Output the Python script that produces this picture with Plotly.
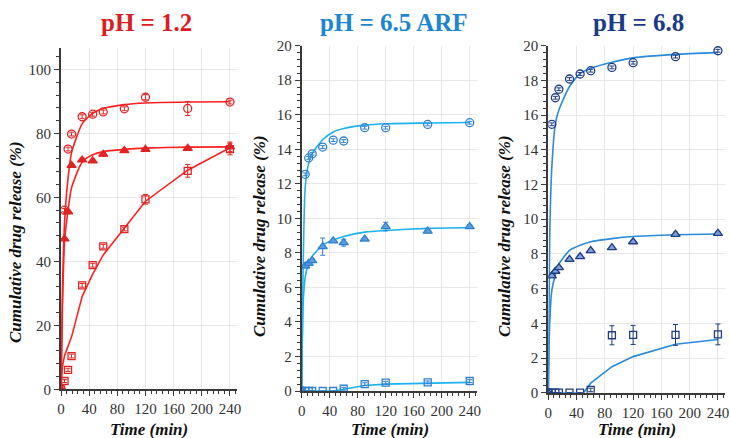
import plotly.graph_objects as go

# ---------------- data ----------------
T = [0, 5, 10, 15, 30, 45, 60, 90, 120, 180, 240]
FIT_T = [0, 2, 5, 10, 15, 30, 45, 60, 90, 120, 180, 240]

# pH = 1.2
circ1 = [0, 56, 75.1, 79.8, 85.2, 86.0, 86.7, 87.7, 91.3, 87.8, 89.8]
circ1_err = [0, 0.5, 0.6, 0.6, 0.6, 0.6, 0.6, 0.6, 0.8, 2.2, 0.6]
tri1 = [0, 47, 55.5, 70.0, 71.7, 71.4, 73.5, 74.6, 75.0, 75.3, 75.8]
tri1_err = [0, 0.5, 0.5, 0.5, 0.5, 0.5, 0.5, 0.5, 0.5, 0.5, 1.5]
sq1 = [0, 2.6, 6.1, 10.4, 32.5, 38.8, 44.7, 50.1, 59.4, 68.3, 75.1]
sq1_err = [0, 0.5, 0.5, 0.6, 0.6, 0.6, 0.6, 0.6, 1.5, 2.0, 1.8]
fit_c1 = [0, 30, 52, 66, 74, 83, 86.3, 87.8, 89.0, 89.5, 89.8, 89.9]
fit_t1 = [0, 25, 46, 56, 63, 71, 73.3, 74.3, 75.0, 75.4, 75.7, 75.8]
fit_s1 = [0, 7, 10.5, 13.5, 16.4, 29, 36, 42, 50.5, 58.8, 68.5, 75.5]

# pH = 6.5 ARF
circ2 = [0, 12.55, 13.5, 13.74, 14.13, 14.53, 14.48, 15.25, 15.25, 15.44, 15.54]
circ2_err = [0, 0.08, 0.08, 0.08, 0.08, 0.08, 0.08, 0.08, 0.08, 0.08, 0.08]
tri2 = [0, 7.24, 7.39, 7.55, 8.36, 8.7, 8.59, 8.8, 9.52, 9.26, 9.52]
tri2_err = [0, 0.08, 0.1, 0.1, 0.5, 0.08, 0.2, 0.08, 0.25, 0.1, 0.1]
sq2 = [0, 0, 0, 0, 0, 0, 0.13, 0.4, 0.48, 0.5, 0.58]
sq2_err = [0, 0, 0, 0, 0, 0, 0.08, 0.08, 0.08, 0.08, 0.08]
fit_c2 = [0, 7, 11.8, 13.2, 13.75, 14.55, 15.0, 15.2, 15.4, 15.48, 15.52, 15.55]
fit_t2 = [0, 5, 6.6, 7.4, 7.8, 8.45, 8.75, 8.95, 9.2, 9.3, 9.42, 9.47]
fit_s2 = [0, 0, 0, 0, 0, 0, 0, 0.1, 0.32, 0.4, 0.45, 0.5]

# pH = 6.8
circ3 = [0, 15.47, 17.0, 17.49, 18.08, 18.37, 18.56, 18.75, 19.02, 19.37, 19.71]
circ3_err = [0, 0.08, 0.08, 0.08, 0.08, 0.08, 0.08, 0.08, 0.08, 0.08, 0.08]
tri3 = [0, 6.73, 7.0, 7.21, 7.69, 7.84, 8.19, 8.36, 8.7, 9.13, 9.18]
tri3_err = [0, 0.08, 0.08, 0.08, 0.08, 0.1, 0.08, 0.08, 0.08, 0.12, 0.12]
sq3 = [0, 0, 0, 0, 0, 0, 0.16, 3.31, 3.33, 3.33, 3.36]
sq3_err = [0, 0, 0, 0, 0, 0, 0.1, 0.55, 0.55, 0.6, 0.6]
fit_c3 = [0, 9, 13, 15.5, 16.3, 17.65, 18.4, 18.7, 19.05, 19.3, 19.5, 19.6]
fit_t3 = [0, 4, 5.9, 6.8, 7.4, 8.2, 8.5, 8.7, 8.88, 9.0, 9.1, 9.15]
FIT_S3_T = [0, 45, 50, 60, 90, 120, 180, 240]
fit_s3 = [0, 0, 0, 0.55, 1.5, 2.08, 2.79, 3.07]

TITLES = ["pH = 1.2", "pH = 6.5 ARF", "pH = 6.8"]
X_TICKS = [0, 40, 80, 120, 160, 200, 240]

# ---------------- styling ----------------
TITLE_COL = ["#dc1c22", "#1c86d1", "#1b3a87"]
LINE_COL = ["#ff2020", "#1ab2f0", "#2b8bda"]
MARK_COL = ["#e02424", "#2f80d0", "#1f3c88"]
TRI_FILL = ["#e02424", "#5c9de0", "#7fa0d8"]

SERIF = "Liberation Serif"

fig = go.Figure()

panels = [
    (circ1, circ1_err, tri1, tri1_err, sq1, sq1_err, fit_c1, fit_t1, FIT_T, fit_s1),
    (circ2, circ2_err, tri2, tri2_err, sq2, sq2_err, fit_c2, fit_t2, FIT_T, fit_s2),
    (circ3, circ3_err, tri3, tri3_err, sq3, sq3_err, fit_c3, fit_t3, FIT_S3_T, fit_s3),
]

for i, (c, ce, tr, te, s, se, fc, ft, fst, fs) in enumerate(panels):
    xa = "x" if i == 0 else f"x{i+1}"
    ya = "y" if i == 0 else f"y{i+1}"
    lc = LINE_COL[i]
    mc = MARK_COL[i]
    for fx, fy, shape in [(FIT_T, fc, "spline"), (FIT_T, ft, "spline"), (fst, fs, "linear")]:
        fig.add_trace(go.Scatter(
            x=fx, y=fy, mode="lines", xaxis=xa, yaxis=ya,
            line=dict(color=lc, width=1.6, shape=shape, smoothing=0.6) if shape == "spline"
            else dict(color=lc, width=1.6),
            showlegend=False, hoverinfo="skip"))
    for y, e, sym, size, fillc in [
        (c, ce, "circle", 8, "rgba(255,255,255,0)"),
        (tr, te, "triangle-up", 8, TRI_FILL[i]),
        (s, se, "square", 7, "rgba(255,255,255,0)"),
    ]:
        fig.add_trace(go.Scatter(
            x=T, y=y, mode="markers", xaxis=xa, yaxis=ya,
            marker=dict(symbol=sym, size=size, color=fillc,
                        line=dict(color=mc, width=1.3)),
            error_y=dict(type="data", array=e, visible=True, color=mc,
                         thickness=1, width=2.5),
            showlegend=False))

# ---------------- axes ----------------
W, H = 730.0, 438.0
xdom_px = [(61, 237), (301.7, 476.7), (548.3, 725)]
ydom_px = [(48, 389.3), (45.7, 391), (45.7, 392.7)]
yranges = [[0, 106.7], [0, 20], [0, 20]]
ydticks = [20, 2, 2]

axis_common = dict(
    showline=True, linecolor="#3a3a3a", linewidth=2,
    ticks="outside", tickcolor="#3a3a3a", ticklen=5, tickwidth=1,
    showgrid=True, gridcolor="#e8e8e8", gridwidth=1,
    zeroline=False, automargin=False,
    tickfont=dict(family=SERIF, size=15, color="#333333"),
)

layout = {}
for i in range(3):
    xk = "xaxis" if i == 0 else f"xaxis{i+1}"
    yk = "yaxis" if i == 0 else f"yaxis{i+1}"
    xa_anchor = "y" if i == 0 else f"y{i+1}"
    ya_anchor = "x" if i == 0 else f"x{i+1}"
    x0, x1 = xdom_px[i]
    yt, yb = ydom_px[i]
    layout[xk] = dict(
        axis_common, domain=[x0 / W, x1 / W], anchor=xa_anchor,
        range=[0, 250], tickvals=X_TICKS, ticktext=[str(v) for v in X_TICKS],
        minor=dict(dtick=8, tick0=0, ticks="outside", ticklen=3, tickcolor="#3a3a3a", showgrid=False),
    )
    layout[yk] = dict(
        axis_common, domain=[1 - yb / H, 1 - yt / H], anchor=ya_anchor,
        range=yranges[i], dtick=ydticks[i], tick0=0,
        minor=dict(dtick=ydticks[i] / 5, tick0=0, ticks="outside", ticklen=3, tickcolor="#3a3a3a", showgrid=False),
    )

annotations = []
title_cx = [146.7, 394, 638]
ytitle_cx = [15, 259, 504]
ytitle_cy = [242, 236, 236]
xtitle_cx = [149, 390, 636.5]
for i in range(3):
    annotations.append(dict(
        text=f"<b>{TITLES[i]}</b>", x=title_cx[i] / W, y=1 - 22 / H,
        xref="paper", yref="paper", xanchor="center", yanchor="middle",
        showarrow=False, font=dict(family=SERIF, size=25, color=TITLE_COL[i])))
    annotations.append(dict(
        text="<b><i>Cumulative drug release (%)</i></b>",
        x=ytitle_cx[i] / W, y=1 - ytitle_cy[i] / H, textangle=-90,
        xref="paper", yref="paper", xanchor="center", yanchor="middle",
        showarrow=False, font=dict(family=SERIF, size=17, color="#111111")))
    annotations.append(dict(
        text="<b><i>Time (min)</i></b>",
        x=xtitle_cx[i] / W, y=1 - 429 / H,
        xref="paper", yref="paper", xanchor="center", yanchor="middle",
        showarrow=False, font=dict(family=SERIF, size=17, color="#111111")))

fig.update_layout(
    template="none",
    width=730, height=438,
    margin=dict(l=0, r=0, t=0, b=0, pad=0, autoexpand=False),
    paper_bgcolor="white", plot_bgcolor="white",
    font=dict(family=SERIF),
    annotations=annotations,
    **layout,
)

fig.write_html(
    "out.html",
    config={"displayModeBar": False},
    post_script=(
        "document.body.style.margin='0';document.body.style.overflow='hidden';"
    ),
)
